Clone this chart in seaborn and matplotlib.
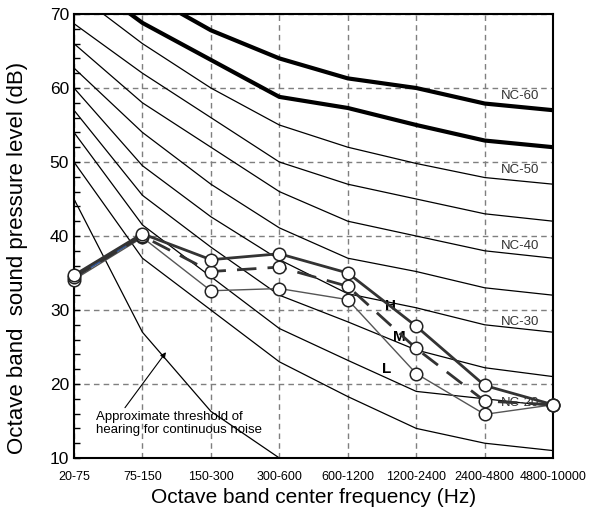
import numpy as np
import pandas as pd
import seaborn as sns
import matplotlib.pyplot as plt

# octave bands (old ASA bands)
bands = ['20-75', '75-150', '150-300', '300-600', '600-1200',
         '1200-2400', '2400-4800', '4800-10000']

# NC curves (dB per band)
nc15 = [50, 37, 30, 23, 18.3, 14, 12, 11]
nc20 = [54, 41.5, 34.5, 27.5, 23.2, 19, 18, 17]
nc25 = [57, 45.5, 38.5, 32, 28.4, 24.6, 22.2, 21]
nc30 = [60, 49.5, 42.6, 36.8, 32.2, 30.3, 28, 27]
nc35 = [62.7, 54, 47, 41.1, 37, 35.2, 33, 32]
nc40 = [66, 58, 52, 46, 42, 40, 38, 37]
nc45 = [68.7, 62, 56, 50, 47, 45, 43, 42]
nc50 = [73, 66, 60, 55, 52, 49.8, 47.9, 47]
nc55 = [75.6, 68.8, 63.8, 58.8, 57.3, 55, 52.9, 52]
nc60 = [79, 73, 67.8, 64, 61.3, 60, 57.9, 57]
threshold = [45, 27, 16.3, 10]

# measured spectra
high = [34.7, 40.3, 36.8, 37.6, 35.0, 27.8, 19.8, 17.2]
medium = [34.4, 40.0, 35.2, 35.8, 33.2, 24.8, 17.7, 17.2]
low = [34.1, 39.8, 32.6, 32.9, 31.4, 21.4, 15.9, 17.2]

nc_labels = ['NC-60', 'NC-50', 'NC-40', 'NC-30', 'NC-20']
nc_label_y = [58.9, 48.9, 38.6, 28.4, 17.5]

sns.set_theme(style='white')
plt.rcParams['font.family'] = ['Liberation Sans', 'DejaVu Sans']
plt.rcParams['text.color'] = 'black'
plt.rcParams['axes.labelcolor'] = 'black'
plt.rcParams['xtick.color'] = 'black'
plt.rcParams['ytick.color'] = 'black'

x = np.arange(len(bands))
fig = plt.figure(figsize=(5.99, 5.13), dpi=100)
ax = fig.add_axes([0.1235, 0.1072, 0.8, 0.8655])

# NC curves
for curve in [nc15, nc20, nc25, nc30, nc35, nc40, nc45, nc50]:
    sns.lineplot(x=x, y=curve, ax=ax, color='black', lw=0.9, zorder=2)
for curve in [nc55, nc60]:
    sns.lineplot(x=x, y=curve, ax=ax, color='black', lw=3, zorder=2)
sns.lineplot(x=x[:len(threshold)], y=threshold, ax=ax, color='black',
             lw=0.9, zorder=2)

# measured spectra
mk = dict(marker='o', markersize=9, markerfacecolor='white',
          markeredgecolor='#222222', markeredgewidth=1.1, clip_on=False)
sns.lineplot(x=x, y=low, ax=ax, color='#555555', lw=1.0, zorder=5, **mk)
sns.lineplot(x=x, y=medium, ax=ax, color='#333333', lw=2.0, zorder=5,
             linestyle=(0, (7, 4)), **mk)
sns.lineplot(x=x, y=high, ax=ax, color='#333333', lw=2.0, zorder=5, **mk)
sns.lineplot(x=x[:2], y=[34.4, 40.0], ax=ax, color='#2f5597', lw=1.5,
             zorder=4)

for lab, yv in zip(nc_labels, nc_label_y):
    ax.text(6.52, yv, lab, ha='center', va='center', fontsize=9.5,
            color='#333333', zorder=3)

ax.text(4.63, 30.6, 'H', fontsize=11, fontweight='bold', ha='center', va='center')
ax.text(4.75, 26.3, 'M', fontsize=11, fontweight='bold', ha='center', va='center')
ax.text(4.56, 22.0, 'L', fontsize=11, fontweight='bold', ha='center', va='center')

ax.text(0.32, 16.3, 'Approximate threshold of\nhearing for continuous noise',
        fontsize=9.5, ha='left', va='top', linespacing=1.1)
ax.annotate('', xy=(1.344, 24.3), xytext=(0.745, 16.8),
            arrowprops=dict(arrowstyle='-|>', color='black', lw=0.8,
                            mutation_scale=8, shrinkA=0, shrinkB=0))

ax.set_xlim(0, 7)
ax.set_ylim(10, 70)
ax.set_xticks(x)
ax.set_xticklabels(bands, fontsize=9)
ax.set_yticks(range(10, 71, 10))
ax.set_yticks(range(10, 71, 2), minor=True)
ax.tick_params(axis='y', which='both', direction='in', length=4,
               width=1, labelsize=12.5, left=True)
ax.tick_params(axis='x', length=0, pad=9)
ax.grid(True, which='major', linestyle=(0, (4, 3)), color='#7f7f7f', lw=1)
for s in ax.spines.values():
    s.set_color('black')
    s.set_linewidth(1.5)
    s.set_visible(True)

ax.set_xlabel('Octave band center frequency (Hz)', fontsize=15, labelpad=4)
ax.set_ylabel('Octave band  sound pressure level (dB)', fontsize=16)
ax.yaxis.set_label_coords(-0.095, 0.45)

fig.savefig('out.png', dpi=100)
